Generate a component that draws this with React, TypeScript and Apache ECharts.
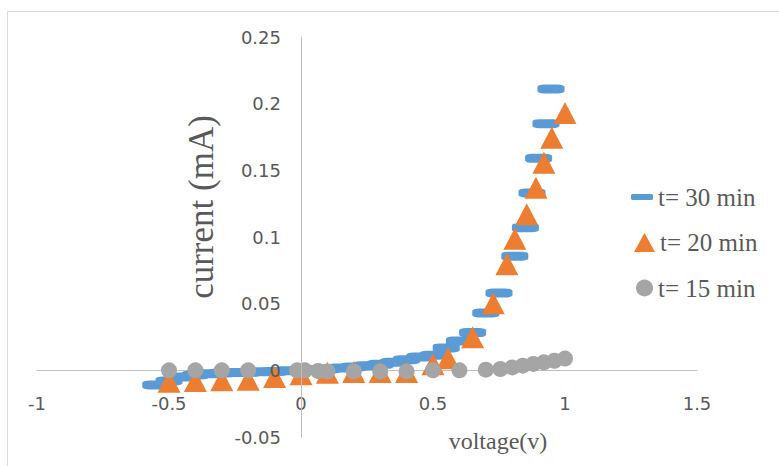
import React, { useEffect, useRef } from "react";
import * as echarts from "echarts";

// Voltage (V) and current (mA) readings for each annealing time
const voltage30 = [-0.55, -0.5, -0.45, -0.4, -0.35, -0.3, -0.25, -0.2, -0.15, -0.1, -0.05, 0, 0.05, 0.1, 0.15, 0.2, 0.25, 0.3, 0.35, 0.4, 0.45, 0.5, 0.55, 0.6, 0.65, 0.7, 0.75, 0.81, 0.85, 0.875, 0.9, 0.928, 0.947];
const current30 = [-0.011, -0.008, -0.005, -0.0035, -0.0025, -0.002, -0.0017, -0.0014, -0.0011, -0.0008, -0.0004, 0, 0.0005, 0.001, 0.0018, 0.0025, 0.0035, 0.0045, 0.006, 0.008, 0.01, 0.0113, 0.0168, 0.022, 0.0283, 0.043, 0.058, 0.0856, 0.107, 0.133, 0.159, 0.185, 0.211];

const voltage20 = [-0.5, -0.4, -0.3, -0.2, -0.1, 0, 0.1, 0.2, 0.3, 0.4, 0.5, 0.557, 0.65, 0.728, 0.78, 0.81, 0.855, 0.89, 0.92, 0.95, 1.0];
const current20 = [-0.0085, -0.008, -0.0075, -0.007, -0.005, -0.003, -0.0018, -0.0013, -0.0013, -0.0012, 0.0045, 0.009, 0.0248, 0.0504, 0.0796, 0.0986, 0.117, 0.137, 0.1557, 0.1745, 0.193];

const voltage15 = [-0.5, -0.4, -0.3, -0.2, -0.015, 0.015, 0.065, 0.1, 0.2, 0.3, 0.4, 0.5, 0.6, 0.7, 0.755, 0.8, 0.84, 0.88, 0.92, 0.96, 1.0];
const current15 = [0, 0, 0, 0, 0, 0, -0.0005, -0.0008, -0.0008, -0.0008, -0.0008, 0, 0, 0.0005, 0.001, 0.0022, 0.0035, 0.0048, 0.006, 0.0072, 0.0088];

const seriesNames = ["t= 30 min", "t= 20 min", "t= 15 min"];
const seriesColors = ["#5B9BD5", "#ED7D31", "#A5A5A5"];

const xTitle = "voltage(v)";
const yTitle = "current (mA)";

const zip = (xs: number[], ys: number[]) => xs.map((x, i) => [x, ys[i]]);

const labelColor = "#595959";
const axisColor = "#bfbfbf";
const serif = "Liberation Serif";

// Plot box in pixels; the axes cross at (0, 0) inside it
const gridLeft = 37;
const gridRight = 82;
const gridTop = 37;
const gridBottom = 29;
const chartWidth = 779;
const chartHeight = 466;
const xMin = -1;
const xMax = 1.5;
const yMin = -0.05;
const yMax = 0.25;

export default function App() {
  const ref = useRef<HTMLDivElement>(null);

  useEffect(() => {
    if (!ref.current) return;
    const chart = echarts.init(ref.current, null, { renderer: "svg" });

    // Shift each axis from the plot edge to the zero line of the other axis
    const plotW = chartWidth - gridLeft - gridRight;
    const plotH = chartHeight - gridTop - gridBottom;
    const yAxisShift = -((0 - xMin) / (xMax - xMin)) * plotW;
    const xAxisShift = -((0 - yMin) / (yMax - yMin)) * plotH;

    const legendText = { fontFamily: serif, fontSize: 25, color: labelColor };

    chart.setOption({
      animation: false,
      backgroundColor: "#ffffff",
      grid: {
        left: gridLeft,
        right: gridRight,
        top: gridTop,
        bottom: gridBottom,
        containLabel: false,
        outerBoundsMode: "none",
      },
      xAxis: {
        type: "value",
        min: xMin,
        max: xMax,
        interval: 0.5,
        position: "bottom",
        offset: xAxisShift,
        axisLine: { onZero: false, lineStyle: { color: axisColor, width: 1 } },
        axisTick: { show: false },
        splitLine: { show: false },
        axisLabel: { color: labelColor, fontFamily: "DejaVu Sans", fontSize: 18, margin: 24 },
      },
      yAxis: {
        type: "value",
        min: yMin,
        max: yMax,
        interval: 0.05,
        position: "left",
        offset: yAxisShift,
        z: 10,
        axisLine: { show: true, onZero: false, lineStyle: { color: axisColor, width: 1 } },
        axisTick: { show: false },
        splitLine: { show: false },
        axisLabel: { color: labelColor, fontFamily: "DejaVu Sans", fontSize: 18, margin: 20 },
      },
      legend: [
        {
          data: [seriesNames[0]],
          left: 631,
          top: 184.5,
          padding: 0,
          icon: "roundRect",
          itemWidth: 22,
          itemHeight: 6,
          textStyle: legendText,
        },
        {
          data: [seriesNames[1]],
          left: 634,
          top: 230,
          padding: 0,
          icon: "triangle",
          itemWidth: 21,
          itemHeight: 19,
          textStyle: legendText,
        },
        {
          data: [seriesNames[2]],
          left: 636,
          top: 275.5,
          padding: 0,
          icon: "circle",
          itemWidth: 17,
          itemHeight: 17,
          textStyle: legendText,
        },
      ],
      graphic: [
        {
          type: "rect",
          silent: true,
          shape: { x: 7.5, y: 11.5, width: 800, height: 500 },
          style: { fill: "none", stroke: "#d9d9d9", lineWidth: 1 },
        },
        {
          type: "text",
          x: 498,
          y: 441,
          style: {
            text: xTitle,
            fontFamily: serif,
            fontSize: 24,
            fill: labelColor,
            align: "center",
            verticalAlign: "middle",
          },
        },
        {
          type: "text",
          x: 201,
          y: 207,
          rotation: Math.PI / 2,
          style: {
            text: yTitle,
            fontFamily: serif,
            fontSize: 35,
            fill: labelColor,
            align: "center",
            verticalAlign: "middle",
          },
        },
      ],
      series: [
        {
          name: seriesNames[0],
          type: "scatter",
          data: zip(voltage30, current30),
          symbol: "roundRect",
          symbolSize: [27, 9],
          itemStyle: { color: seriesColors[0], opacity: 1 },
          z: 2,
        },
        {
          name: seriesNames[1],
          type: "scatter",
          data: zip(voltage20, current20),
          symbol: "triangle",
          symbolSize: [23, 22],
          itemStyle: { color: seriesColors[1], opacity: 1 },
          z: 3,
        },
        {
          name: seriesNames[2],
          type: "scatter",
          data: zip(voltage15, current15),
          symbol: "circle",
          symbolSize: 16,
          itemStyle: { color: seriesColors[2], opacity: 1 },
          z: 4,
        },
      ],
    });

    return () => chart.dispose();
  }, []);

  return (
    <div
      ref={ref}
      style={{ position: "fixed", left: 0, top: 0, width: chartWidth, height: chartHeight, background: "#fff" }}
    />
  );
}
